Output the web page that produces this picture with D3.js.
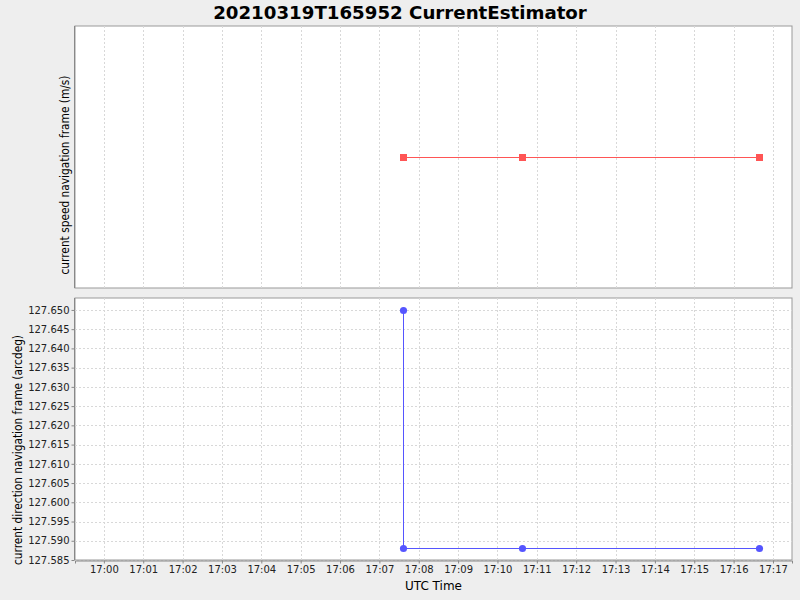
<!DOCTYPE html>
<html><head><meta charset="utf-8">
<script src="https://cdn.jsdelivr.net/npm/d3@7"></script>
<style>body{margin:0;background:#eeeeee;} svg{display:block;}</style>
</head><body>
<svg id="c" width="800" height="600"></svg>
<script>
const title = "20210319T165952 CurrentEstimator";
const times = ["2021-03-19T17:07:36Z","2021-03-19T17:07:36Z","2021-03-19T17:10:37Z","2021-03-19T17:16:39Z"];
const speedValues = [0.0, 0.0, 0.0, 0.0];
const directionValues = [127.650, 127.588, 127.588, 127.588];
const xDomain = ["2021-03-19T16:59:16Z","2021-03-19T17:17:29Z"];
const yDirDomain = [127.585, 127.6531];
const yDirTicks = d3.range(0,14).map(i => +(127.585 + i*0.005).toFixed(3));
const xTicks = d3.range(0,18).map(i => new Date(Date.UTC(2021,2,19,17,i,0)));

const svg = d3.select("#c");
const L = 75, R = 792;
const top1 = [26, 288], top2 = [298, 560];
const parse = s => new Date(s);
const x = d3.scaleUtc().domain(xDomain.map(parse)).range([L, R]);
const fmt = d3.utcFormat("%H:%M");

svg.append("text").attr("x", 400).attr("y", 19).attr("text-anchor","middle")
  .attr("font-family","DejaVu Sans").attr("font-weight","bold").attr("font-size",18.2)
  .attr("fill","#000").text(title);

function panel(yr, yScale, ticks, vals, color, shape, ylabel, labelX, labelY, labelLen){
  const g = svg.append("g");
  g.append("rect").attr("x",L).attr("y",yr[0]).attr("width",R-L).attr("height",yr[1]-yr[0])
    .attr("fill","#fff").attr("stroke","#999").attr("stroke-width",1);
  g.selectAll(".vg").data(xTicks).join("line")
    .attr("x1",d=>Math.round(x(d))+0.5).attr("x2",d=>Math.round(x(d))+0.5)
    .attr("y1",yr[0]).attr("y2",yr[1]).attr("stroke","#d8d8d8").attr("stroke-dasharray","2,2");
  if (ticks){
    g.selectAll(".hg").data(ticks).join("line")
      .attr("x1",L).attr("x2",R).attr("y1",d=>Math.round(yScale(d))+0.5).attr("y2",d=>Math.round(yScale(d))+0.5)
      .attr("stroke","#d8d8d8").attr("stroke-dasharray","2,2");
    const ax = d3.axisLeft(yScale).tickValues(ticks).tickFormat(d3.format(".3f")).tickSize(3).tickPadding(2);
    const ag = g.append("g").attr("transform",`translate(${L-0.5},0)`).call(ax);
    ag.select(".domain").remove();
    ag.selectAll("line").attr("stroke","#888");
    ag.selectAll("text").attr("font-family","DejaVu Sans").attr("font-size",10).attr("fill","#222");
  }
  g.append("line").attr("x1",L-0.5).attr("x2",L-0.5).attr("y1",yr[0]).attr("y2",yr[1]).attr("stroke","#888");
  const pts = times.map((t,i)=>({t:parse(t), v:vals[i]}));
  g.append("path").datum(pts)
    .attr("d", d3.line().x(d=>Math.round(x(d.t))+0.5).y(d=>Math.round(yScale(d.v))+0.5))
    .attr("fill","none").attr("stroke",color).attr("stroke-width",1).attr("shape-rendering","crispEdges");
  const sym = d3.symbol().type(shape).size(shape===d3.symbolSquare?49:40);
  g.selectAll(".pt").data(pts).join("path")
    .attr("transform",d=>`translate(${Math.round(x(d.t))+0.5},${Math.round(yScale(d.v))+0.5})`)
    .attr("d", sym).attr("fill",color);
  g.append("text").attr("transform",`translate(${labelX},${labelY}) rotate(-90)`)
    .attr("text-anchor","middle").attr("font-family","DejaVu Sans").attr("font-size",12)
    .attr("textLength",labelLen).attr("lengthAdjust","spacingAndGlyphs")
    .attr("fill","#000").text(ylabel);
}

const ySpeed = d3.scaleLinear().domain([-1,1]).range([top1[1], top1[0]]);
panel(top1, ySpeed, null, speedValues, "#ff5555", d3.symbolSquare, "current speed navigation frame (m/s)", 69, 175, 199);
const yDir = d3.scaleLinear().domain(yDirDomain).range([top2[1], top2[0]]);
panel(top2, yDir, yDirTicks, directionValues, "#5555ff", d3.symbolCircle, "current direction navigation frame (arcdeg)", 22, 450, 230);

const xa = d3.axisBottom(x).tickValues(xTicks).tickFormat(fmt).tickSize(3).tickPadding(2);
const xg = svg.append("g").attr("transform",`translate(0,${top2[1]+0.5})`).call(xa);
xg.select(".domain").attr("stroke","#888");
xg.selectAll("line").attr("stroke","#888");
xg.selectAll("text").attr("font-family","DejaVu Sans").attr("font-size",10).attr("fill","#222");
svg.append("text").attr("x",(L+R)/2).attr("y",590).attr("text-anchor","middle")
  .attr("font-family","DejaVu Sans").attr("font-size",12).attr("fill","#000").text("UTC Time");
</script>
</body></html>
